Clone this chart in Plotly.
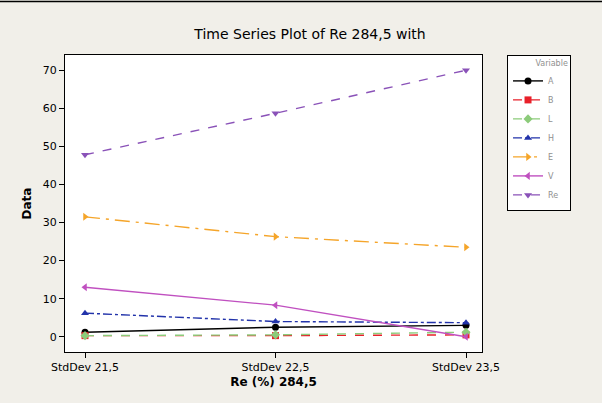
import plotly.graph_objects as go

categories = ["StdDev 21,5", "StdDev 22,5", "StdDev 23,5"]
A = [1.2, 2.5, 3.0]
B = [0.3, 0.3, 0.5]
L = [0.3, 0.5, 1.2]
H = [6.2, 4.0, 3.7]
E = [31.5, 26.3, 23.5]
V = [13.0, 8.3, 0.0]
Re = [47.8, 58.7, 70.0]
y_ticks = [0, 10, 20, 30, 40, 50, 60, 70]

series = [
    ("A", A, "#000000", "solid", "circle"),
    ("B", B, "#E8202A", "dash", "square"),
    ("L", L, "#8CCB7A", "dash", "diamond"),
    ("H", H, "#2233AA", "dashdot", "triangle-up"),
    ("E", E, "#F5A52A", "longdashdot", "triangle-right"),
    ("V", V, "#C050C0", "solid", "triangle-left"),
    ("Re", Re, "#8A52B8", "dash", "triangle-down"),
]

fig = go.Figure()
xs = list(range(len(categories)))
for name, vals, col, dash, sym in series:
    fig.add_trace(go.Scatter(
        x=xs, y=vals, name=name, mode="lines+markers",
        line=dict(color=col, width=1.4, dash=dash),
        marker=dict(color=col, symbol=sym, size=7),
    ))

fig.update_layout(
    width=602, height=403,
    paper_bgcolor="#F1EFE9", plot_bgcolor="#FFFFFF",
    margin=dict(l=65, r=120, t=55, b=51),
    font=dict(family="DejaVu Sans", size=11, color="#000000"),
    title=dict(text="Time Series Plot of Re 284,5 with", x=0.515, xanchor="center",
               y=0.915, yanchor="middle", font=dict(size=14, family="DejaVu Sans")),
    showlegend=True,
    legend=dict(x=1.06, y=1.0, xanchor="left", yanchor="top",
                bgcolor="#FFFFFF", bordercolor="#000000", borderwidth=1,
                font=dict(size=8, color="#909090"),
                title=dict(text="          Variable", font=dict(size=8, color="#909090")),
                tracegroupgap=0, itemwidth=30, entrywidth=50),
)
fig.update_xaxes(
    tickmode="array", tickvals=xs, ticktext=categories,
    range=[-0.105, 2.084], showgrid=False, zeroline=False,
    showline=True, mirror=True, linecolor="#000000", linewidth=1,
    ticks="outside", ticklen=5, tickcolor="#000000",
    title=dict(text="<b>Re (%) 284,5</b>", font=dict(size=12), standoff=4),
    tickfont=dict(size=11),
)
fig.update_yaxes(
    tickmode="array", tickvals=y_ticks,
    range=[-4, 74], showgrid=False, zeroline=False,
    showline=True, mirror=True, linecolor="#000000", linewidth=1,
    ticks="outside", ticklen=5, tickcolor="#000000",
    title=dict(text="<b>Data</b>", font=dict(size=12), standoff=8),
    tickfont=dict(size=11),
)
fig.add_shape(type="line", xref="paper", yref="paper", x0=-0.3, x1=1.5, y0=1.18, y1=1.18,
              line=dict(color="#000000", width=1.5))
fig.write_html("out.html", config={"displayModeBar": False})

with open("out.html", "r", encoding="utf-8") as f:
    html = f.read()
html = html.replace("<body>", '<body style="margin:0;padding:0;overflow:hidden">', 1)
with open("out.html", "w", encoding="utf-8") as f:
    f.write(html)
